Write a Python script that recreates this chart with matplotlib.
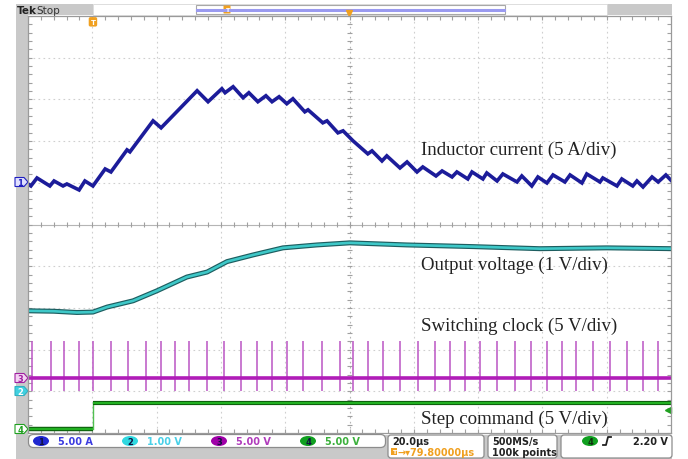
import numpy as np
import matplotlib.pyplot as plt
from matplotlib.patches import FancyBboxPatch, Rectangle, Ellipse, Polygon

# ---- data ----
# ch1 inductor current: time (us), current (A)
cur_t = [0, 0.9, 2.8, 6.8, 8.1, 10.9, 12.1, 15.9, 17.7, 20.2, 24.0, 25.8, 30.8, 31.7,
         38.9, 41.4, 52.6, 56.0, 60.3, 61.3, 63.8, 66.9, 68.7, 71.5, 74.0, 75.9, 78.1,
         80.5, 82.4, 86.1, 87.1, 91.7, 93.0, 96.4, 98.0, 101.1, 105.7, 107.0, 110.1,
         111.6, 115.7, 117.9, 121.0, 122.8, 126.9, 128.8, 131.9, 133.4, 136.8, 138.1,
         141.5, 142.7, 145.9, 147.7, 152.1, 153.6, 156.7, 158.6, 161.4, 163.3, 167.0,
         168.6, 172.3, 173.8, 177.9, 178.8, 183.2, 184.7, 188.1, 189.4, 191.3, 194.1,
         196.0, 198.4, 200.2]
cur_a = [-0.24, -0.48, 0.48, -0.48, 0.12, -0.48, -0.24, -0.96, 0.12, -0.48, 1.56, 1.20,
         3.85, 3.61, 7.33, 6.49, 10.94, 9.62, 11.18, 10.70, 11.42, 10.10, 10.70, 9.62,
         10.34, 9.62, 10.22, 9.38, 9.98, 8.41, 8.65, 7.09, 7.33, 5.89, 6.13, 4.93, 3.37,
         3.73, 2.52, 3.13, 1.68, 2.40, 1.20, 1.80, 0.72, 1.32, 0.60, 1.20, 0.36, 1.20,
         0.36, 1.08, 0.12, 0.96, 0.00, 0.72, -0.48, 0.60, -0.12, 0.84, 0.00, 0.84, -0.12,
         0.96, 0.00, 0.48, -0.48, 0.36, -0.48, 0.12, -0.60, 0.60, 0.00, 0.84, 0.12]

# ch2 output voltage: time (us), voltage (V)
vout_t = [0, 8.0, 15.2, 20.2, 24.6, 32.7, 40.1, 49.4, 55.7, 61.9, 70.0, 79.3, 89.9,
          100.1, 117.8, 138.4, 159.2, 180.1, 200.6]
vout_v = [1.95, 1.94, 1.91, 1.92, 2.04, 2.19, 2.43, 2.76, 2.88, 3.13, 3.29, 3.46, 3.53,
          3.58, 3.53, 3.49, 3.44, 3.46, 3.44]

# ch3 switching clock: pulse times (us)
clk_t = [1.3, 7.1, 11.3, 15.9, 20.3, 25.8, 31.0, 36.7, 41.3, 45.7, 50.2, 55.6, 61.0,
         66.2, 71.1, 75.8, 80.5, 85.6, 91.3, 97.0, 101.2, 105.8, 110.5, 115.7, 121.4,
         126.6, 131.2, 135.9, 140.6, 145.8, 151.5, 156.6, 161.3, 166.0, 170.6, 175.8,
         181.0, 186.2, 191.4, 196.0]
clk_hi = 4.4
clk_lo = -1.6

# ch4 step command: time (us), voltage (V)
step_t = [0, 20.2, 20.2, 200]
step_v = [0, 0, 3.1, 3.1]

# volts(amps)/div and ground marker position (div)
scale = {1: 5.0, 2: 1.0, 3: 5.0, 4: 5.0}
pos = {1: 6.02, 2: 0.98, 3: 1.32, 4: 0.10}
trig_level = 2.2

labels = ["Inductor current (5 A/div)", "Output voltage (1 V/div)",
          "Switching clock (5 V/div)", "Step command (5 V/div)"]
label_y = [6.81, 4.05, 2.57, 0.34]


def div(ch, vals):
    return pos[ch] + np.array(vals) / scale[ch]


fig = plt.figure(figsize=(6.88, 4.60), dpi=100)
W, H = 688, 460

# frame / decoration layer in pixel coords
deco = fig.add_axes([0, 0, 1, 1], zorder=0)
deco.set_xlim(0, W)
deco.set_ylim(H, 0)
deco.axis("off")
gray = "#c9c9c9"
deco.add_patch(Rectangle((16, 16), 12, 420, fc=gray, ec="none"))
deco.add_patch(Rectangle((16, 5), 77, 11, fc=gray, ec="none"))
deco.add_patch(Rectangle((607, 5), 65, 11, fc=gray, ec="none"))
deco.add_patch(Rectangle((16, 436), 656, 24, fc=gray, ec="none"))
deco.add_patch(Rectangle((93, 5), 514, 11, fc="white", ec="#d8d8d8", lw=0.6))
deco.add_patch(Rectangle((196, 6), 309, 9, fc="white", ec="#a8a8a8", lw=0.8))
deco.plot([197, 504], [10.5, 10.5], color="#9a9af0", lw=2.2)
deco.add_patch(FancyBboxPatch((224, 7), 6, 7, boxstyle="round,pad=0.5", fc="#f0a020", ec="none"))
deco.text(227, 10.8, "T", color="white", fontsize=4.5, ha="center", va="center", weight="bold")
deco.plot([349], [14], marker="v", color="#f0a020", ms=4)
deco.text(17, 10.5, "Tek", fontsize=7.5, weight="bold", va="center", color="#222222")
deco.text(36, 10.5, "Stop", fontsize=7.5, va="center", color="#333333")

# left channel markers
marks = [(183, "1", "#e0e0ff", "#2020c0", "#2020c0"),
         (379, "3", "#f3d4f3", "#a020a0", "#a020a0"),
         (392, "2", "#40d0e0", "#30b0c0", "white"),
         (430, "4", "white", "#20a020", "#20a020")]
for yy, s, fc, ec, tc in marks:
    deco.add_patch(Polygon([(15, yy - 4.5), (24, yy - 4.5), (28, yy), (24, yy + 4.5), (15, yy + 4.5)],
                           closed=True, fc=fc, ec=ec, lw=0.8))
    deco.text(20, yy + 0.5, s, color=tc, fontsize=6, weight="bold", ha="center", va="center")

# status bar
deco.add_patch(FancyBboxPatch((30, 437), 354, 10, boxstyle="round,pad=1.5,rounding_size=5",
                              fc="white", ec="#8c8c8c", lw=0.9))
for x0, x1 in [(389, 483), (489, 556), (562, 671)]:
    deco.add_patch(FancyBboxPatch((x0, 437), x1 - x0, 21, boxstyle="round,pad=1,rounding_size=3",
                                  fc="white", ec="#8c8c8c", lw=0.9))
badges = [(41, "1", "#2028d0", "5.00 A", "#3c3ce0"),
          (130, "2", "#30d8e0", "1.00 V", "#48d0e8"),
          (219, "3", "#a000a8", "5.00 V", "#b03cbc"),
          (308, "4", "#10a020", "5.00 V", "#3cb03c")]
for bx, s, bc, txt, tc in badges:
    deco.add_patch(Ellipse((bx, 442), 16, 10, fc=bc, ec="none"))
    deco.text(bx, 442.5, s, color="#101040", fontsize=6, weight="bold", ha="center", va="center")
    deco.text(bx + 17, 442.5, txt, color=tc, fontsize=7, weight="bold", va="center")
deco.text(392, 442, "20.0µs", fontsize=7, weight="bold", va="center", color="#222222")
deco.add_patch(Rectangle((391, 449), 6, 7, fc="#f0a020", ec="none"))
deco.text(394, 452.8, "T", color="white", fontsize=4.5, ha="center", va="center", weight="bold")
deco.text(398, 453, "\u2192\u25be79.80000µs", fontsize=7, weight="bold", va="center", color="#f0a020")
deco.text(492, 442, "500MS/s", fontsize=7, weight="bold", va="center", color="#222222")
deco.text(492, 453, "100k points", fontsize=7, weight="bold", va="center", color="#222222")
deco.add_patch(Ellipse((590, 442), 16, 10, fc="#10a020", ec="none"))
deco.text(590, 442.5, "4", color="#103010", fontsize=6, weight="bold", ha="center", va="center")
deco.plot([603, 606, 608, 611], [446, 446, 438, 438], color="#222222", lw=1.3)
deco.text(668, 442, "2.20 V", fontsize=7, weight="bold", va="center", ha="right", color="#222222")

# ---- scope screen ----
ax = fig.add_axes([28 / W, 1 - 434 / H, 643 / W, 417 / H], zorder=1)
ax.set_xlim(0, 200)
ax.set_ylim(0, 10)
ax.set_xticks([])
ax.set_yticks([])
for sp in ax.spines.values():
    sp.set_color("#9a9a9a")
    sp.set_linewidth(0.9)

grid_c = "#cfcfcf"
for i in range(1, 10):
    if i != 5:
        ax.axvline(20 * i, color=grid_c, lw=0.8, ls=(0, (1.5, 3)))
        ax.axhline(i, color=grid_c, lw=0.8, ls=(0, (1.5, 3)))
ax.axhline(5, color="#b5b5b5", lw=0.8)
ax.axvline(100, color="#b5b5b5", lw=0.8, ls=(0, (1.5, 3)))
xt = np.arange(0, 200.1, 4)
yt = np.arange(0, 10.01, 0.2)
ax.vlines(xt, 5 - 0.07, 5 + 0.07, color="#a0a0a0", lw=0.8)
ax.hlines(yt, 100 - 0.9, 100 + 0.9, color="#a0a0a0", lw=0.8)
ax.vlines(xt, 0, 0.1, color="#a0a0a0", lw=0.8)
ax.vlines(xt, 9.9, 10, color="#a0a0a0", lw=0.8)
ax.hlines(yt, 0, 1.3, color="#a0a0a0", lw=0.8)
ax.hlines(yt, 198.7, 200, color="#a0a0a0", lw=0.8)

# ch4 step command
ax.plot(step_t[:2], div(4, step_v[:2]), color="#0d5f0d", lw=3.2, solid_capstyle="butt")
ax.plot(step_t[:2], div(4, step_v[:2]), color="#22b022", lw=1.6, solid_capstyle="butt")
ax.plot(step_t[1:3], div(4, step_v[1:3]), color="#50c050", lw=1.0)
ax.plot(step_t[2:], div(4, step_v[2:]), color="#0d5f0d", lw=3.0, solid_capstyle="butt")
ax.plot(step_t[2:], div(4, step_v[2:]), color="#22b022", lw=1.5, solid_capstyle="butt")

# ch3 switching clock
ax.vlines(clk_t, pos[3] + clk_lo / scale[3], pos[3] + clk_hi / scale[3], color="#bb55c4", lw=1.1)
ax.plot([0, 200], [pos[3], pos[3]], color="#b01cb8", lw=2.6)

# ch2 output voltage
ax.plot(vout_t, div(2, vout_v), color="#1d5e60", lw=3.6, solid_joinstyle="round")
ax.plot(vout_t, div(2, vout_v), color="#3ec8c8", lw=1.9, solid_joinstyle="round")

# ch1 inductor current
ax.plot(cur_t, div(1, cur_a), color="#1c1c9a", lw=2.6, solid_joinstyle="miter")

# trigger markers
ax.plot([199], [pos[4] + trig_level / scale[4]], marker="<", color="#20a020", ms=4, clip_on=False)
ax.text(step_t[1], 9.86, "T", color="white", fontsize=5, weight="bold", ha="center", va="center",
        bbox=dict(boxstyle="round,pad=0.25", fc="#f0a020", ec="none"))

for s, yy in zip(labels, label_y):
    ax.text(122.2, yy, s, family="Liberation Serif", fontsize=13.6, va="center", color="#222222")

fig.savefig("out.png", dpi=100)
